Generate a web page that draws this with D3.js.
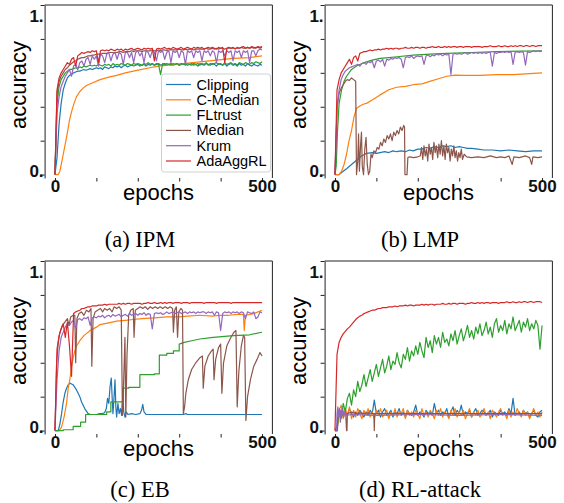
<!DOCTYPE html>
<html>
<head>
<meta charset="utf-8">
<script src="https://cdn.jsdelivr.net/npm/d3@7"></script>
<style>
  body { margin: 0; background: #fff; }
  svg { display: block; }
</style>
</head>
<body>
<div id="chart"></div>
<script>
// legend order = plot order
const seriesNames = ["Clipping", "C-Median", "FLtrust", "Median", "Krum", "AdaAggRL"];
const seriesColors = ["#1f77b4", "#ff7f0e", "#2ca02c", "#8c564b", "#9467bd", "#d62728"];
const panelCaptions = ["(a) IPM", "(b) LMP", "(c) EB", "(d) RL-attack"];
const xTicks = [0, 100, 200, 300, 400, 500];
const xTickLabels = { 0: "0", 500: "500" };
const yTicks = [0, 0.2, 0.4, 0.6, 0.8, 1.0];
const yTickLabels = { 0: "0.", 1: "1." };

// noisy series are read every 5 epochs, smooth ones as [epoch, accuracy] pairs
const sampleStep = 5;

// ---- (a) IPM ----
const ipmClipping = [0, .10, .30, .42, .50, .54, .57, .585, .59, .60,
  .605, .61, .61, .615, .62, .615, .62, .625, .62, .625,
  .63, .625, .63, .62, .635, .63, .625, .635, .63, .64,
  .635, .64, .63, .64, .645, .635, .64, .645, .64, .645,
  .65, .64, .645, .65, .64, .65, .645, .655, .645, .65,
  .655, .645, .65, .655, .645, .65, .655, .645, .65, .655,
  .645, .65, .655, .645, .655, .65, .645, .655, .65, .64,
  .655, .65, .645, .655, .65, .645, .655, .65, .64, .655,
  .65, .645, .655, .64, .65, .655, .645, .65, .64, .655,
  .645, .65, .64, .655, .645, .64, .65, .645, .64, .65, .645];
const ipmCMedian = [[0, 0], [8, 0], [12, 0.02], [20, 0.12], [28, 0.22], [35, 0.32], [40, 0.37], [46, 0.42],
  [52, 0.46], [60, 0.49], [68, 0.51], [76, 0.525], [90, 0.54], [109, 0.56], [130, 0.575], [149, 0.585],
  [170, 0.60], [189, 0.61], [210, 0.62], [229, 0.63], [250, 0.64], [270, 0.645], [310, 0.655],
  [350, 0.665], [390, 0.675], [431, 0.685], [470, 0.69], [500, 0.70]];
const ipmFLtrust = [0, .42, .52, .56, .58, .60, .61, .62, .62, .625,
  .63, .625, .635, .63, .64, .635, .64, .645, .64, .645,
  .64, .65, .645, .64, .65, .645, .65, .64, .655, .645,
  .65, .645, .655, .65, .645, .655, .65, .645, .655, .65,
  .655, .65, .645, .655, .65, .66, .65, .655, .645, .655,
  .65, .59, .655, .645, .655, .65, .645, .655, .65, .655,
  .645, .655, .65, .655, .645, .65, .655, .645, .65, .655,
  .645, .655, .65, .66, .645, .655, .65, .655, .66, .65,
  .655, .645, .66, .65, .655, .66, .65, .655, .645, .66,
  .655, .65, .66, .655, .65, .66, .655, .665, .66, .655, .665];
const ipmMedian = [0, .48, .55, .58, .60, .62, .63, .645, .655, .665,
  .67, .68, .685, .69, .69, .695, .70, .70, .705, .705,
  .71, .71, .71, .715, .715, .715, .72, .72, .72, .72,
  .72, .725, .725, .72, .725, .725, .725, .73, .725, .73,
  .73, .73, .725, .73, .73, .73, .73, .735, .73, .73,
  .735, .73, .735, .735, .73, .735, .735, .735, .735, .735,
  .74, .735, .735, .74, .735, .74, .74, .735, .74, .74,
  .74, .74, .74, .745, .74, .74, .745, .74, .745, .74,
  .745, .745, .74, .745, .745, .745, .745, .745, .745, .745,
  .75, .745, .745, .75, .745, .75, .745, .75, .75, .745, .75];
const ipmKrum = [0, .36, .46, .52, .55, .58, .60, .62, .58, .64,
  .65, .62, .66, .67, .64, .68, .69, .65, .70, .68,
  .70, .64, .71, .70, .66, .71, .72, .67, .71, .72,
  .68, .72, .71, .65, .72, .72, .69, .72, .66, .72,
  .73, .70, .72, .66, .73, .72, .69, .73, .72, .67,
  .73, .72, .73, .68, .72, .73, .66, .73, .72, .73,
  .69, .73, .72, .65, .73, .72, .73, .69, .73, .72,
  .73, .67, .73, .72, .73, .70, .73, .72, .66, .73,
  .72, .73, .70, .73, .72, .73, .67, .73, .72, .73,
  .69, .73, .72, .73, .66, .73, .73, .70, .73, .74, .735];
const ipmAdaAggRL = [0, .50, .57, .60, .62, .64, .66, .65, .68, .69,
  .64, .70, .71, .72, .715, .72, .725, .72, .73, .725,
  .73, .66, .73, .735, .73, .735, .73, .74, .735, .73,
  .74, .735, .74, .73, .74, .735, .74, .745, .735, .74,
  .745, .74, .735, .745, .74, .745, .74, .745, .67, .74,
  .745, .74, .745, .75, .74, .745, .74, .75, .745, .74,
  .745, .75, .74, .745, .75, .745, .74, .75, .745, .75,
  .745, .75, .74, .745, .75, .745, .75, .745, .74, .75,
  .745, .75, .66, .745, .75, .745, .75, .74, .75, .745,
  .75, .755, .745, .75, .745, .755, .75, .745, .755, .75, .755];

// ---- (b) LMP ----
const lmpClipping = [[0, 0], [10, 0], [20, 0.02], [28, 0.035], [40, 0.06], [52, 0.085], [64, 0.11],
  [76, 0.125], [90, 0.13], [100, 0.125], [109, 0.13], [120, 0.135], [130, 0.13], [140, 0.14],
  [149, 0.135], [160, 0.14], [170, 0.135], [180, 0.145], [189, 0.14], [200, 0.15], [210, 0.15],
  [220, 0.16], [230, 0.155], [240, 0.165], [250, 0.16], [260, 0.17], [270, 0.165], [280, 0.17],
  [290, 0.16], [300, 0.165], [310, 0.16], [320, 0.155], [330, 0.155], [345, 0.15], [360, 0.145],
  [380, 0.145], [400, 0.14], [420, 0.145], [440, 0.14], [460, 0.135], [480, 0.14], [500, 0.14]];
const lmpCMedian = [[0, 0], [10, 0], [16, 0.02], [22, 0.06], [28, 0.12], [34, 0.2], [40, 0.26], [46, 0.34],
  [52, 0.39], [60, 0.405], [68, 0.415], [76, 0.42], [90, 0.44], [109, 0.47], [130, 0.50], [149, 0.515],
  [170, 0.52], [189, 0.53], [210, 0.535], [229, 0.55], [250, 0.565], [270, 0.58], [290, 0.587],
  [310, 0.585], [350, 0.585], [390, 0.59], [431, 0.59], [470, 0.595], [500, 0.60]];
const lmpFLtrust = [[0, 0], [3, 0.05], [6, 0.25], [10, 0.42], [16, 0.50], [22, 0.55], [28, 0.58], [40, 0.62],
  [52, 0.64], [65, 0.655], [76, 0.665], [90, 0.675], [109, 0.685], [130, 0.69], [150, 0.695],
  [189, 0.705], [230, 0.71], [270, 0.715], [330, 0.72], [390, 0.725], [450, 0.728], [500, 0.73]];
const lmpMedian = [[0, 0], [3, 0.2], [5, 0.40], [10, 0.48], [15, 0.51], [20, 0.53], [25, 0.55], [30, 0.56],
  [35, 0.555], [40, 0.57], [45, 0.56], [50, 0.55], [52, 0.0], [55, 0.08], [57, 0.24], [59, 0.02],
  [62, 0.18], [64, 0.25], [66, 0.05], [69, 0.0], [72, 0.15], [75, 0.22], [78, 0.06], [81, 0.0],
  [84, 0.02], [87, 0.12], [90, 0.10], [94, 0.14], [98, 0.13], [102, 0.16], [106, 0.15], [110, 0.19],
  [114, 0.17], [118, 0.21], [122, 0.19], [126, 0.23], [130, 0.21], [134, 0.24], [138, 0.20],
  [142, 0.25], [146, 0.23], [150, 0.26], [154, 0.24], [158, 0.28], [162, 0.26], [166, 0.29],
  [168, 0.28], [169, 0.0], [174, 0.0], [176, 0.10], [180, 0.105], [190, 0.10], [200, 0.105],
  [206, 0.11], [209, 0.16], [212, 0.09], [215, 0.17], [218, 0.11], [221, 0.15], [224, 0.08],
  [227, 0.18], [230, 0.12], [233, 0.16], [236, 0.09], [239, 0.19], [242, 0.13], [245, 0.17],
  [248, 0.10], [251, 0.18], [254, 0.12], [257, 0.20], [260, 0.11], [263, 0.17], [266, 0.09],
  [269, 0.18], [272, 0.13], [275, 0.16], [278, 0.08], [281, 0.15], [284, 0.11], [287, 0.17],
  [290, 0.10], [293, 0.14], [296, 0.08], [299, 0.13], [302, 0.10], [305, 0.15], [308, 0.09],
  [312, 0.12], [318, 0.105], [330, 0.10], [345, 0.105], [360, 0.10], [375, 0.11], [390, 0.10],
  [400, 0.105], [410, 0.10], [420, 0.11], [428, 0.06], [432, 0.105], [445, 0.10], [460, 0.11],
  [470, 0.10], [475, 0.06], [478, 0.105], [490, 0.10], [500, 0.105]];
const lmpKrum = [0, .38, .50, .56, .59, .61, .62, .63, .635, .64,
  .645, .65, .64, .655, .66, .65, .665, .66, .67, .63,
  .67, .675, .665, .68, .64, .68, .675, .685, .68, .69,
  .685, .69, .68, .63, .69, .695, .69, .70, .685, .695,
  .70, .695, .70, .65, .70, .705, .695, .705, .70, .71,
  .705, .71, .70, .71, .705, .71, .59, .71, .715, .71,
  .715, .71, .715, .72, .71, .715, .72, .715, .72, .715,
  .72, .715, .72, .715, .72, .72, .64, .72, .715, .72,
  .72, .725, .72, .725, .72, .725, .65, .72, .725, .72,
  .725, .72, .645, .725, .72, .725, .73, .725, .73, .725, .73];
const lmpAdaAggRL = [0, .50, .56, .60, .62, .64, .66, .68, .65, .69,
  .70, .67, .715, .72, .725, .725, .73, .735, .73, .735,
  .735, .74, .735, .74, .74, .745, .74, .745, .74, .745,
  .745, .74, .745, .745, .75, .745, .745, .75, .745, .75,
  .75, .745, .75, .75, .745, .75, .75, .755, .75, .75,
  .755, .75, .75, .755, .75, .755, .75, .755, .755, .75,
  .755, .755, .75, .755, .755, .755, .75, .755, .755, .755,
  .755, .75, .755, .755, .755, .76, .755, .755, .755, .76,
  .755, .755, .76, .755, .755, .76, .755, .76, .755, .76,
  .76, .755, .76, .76, .755, .76, .76, .755, .76, .76, .76];

// ---- (c) EB ----
const ebClipping = [[0, 0], [8, 0], [12, 0.04], [16, 0.10], [20, 0.17], [24, 0.22], [28, 0.25], [32, 0.27],
  [36, 0.28], [40, 0.275], [44, 0.27], [48, 0.255], [52, 0.24], [56, 0.22], [60, 0.20], [64, 0.17],
  [68, 0.15], [72, 0.13], [76, 0.115], [80, 0.10], [86, 0.095], [93, 0.095], [100, 0.095], [108, 0.10],
  [114, 0.10], [120, 0.105], [124, 0.13], [127, 0.19], [130, 0.16], [133, 0.26], [136, 0.31],
  [138, 0.20], [140, 0.10], [142, 0.17], [145, 0.30], [147, 0.14], [149, 0.08], [152, 0.16],
  [155, 0.10], [158, 0.13], [161, 0.09], [164, 0.22], [166, 0.11], [169, 0.08], [172, 0.11],
  [176, 0.095], [185, 0.10], [195, 0.095], [205, 0.10], [209, 0.12], [212, 0.155], [215, 0.11],
  [220, 0.095], [260, 0.095], [310, 0.095], [316, 0.10], [320, 0.095], [400, 0.095], [500, 0.095]];
const ebCMedian = [[0, 0], [10, 0], [16, 0.02], [22, 0.08], [28, 0.16], [32, 0.25], [36, 0.30], [40, 0.38],
  [44, 0.43], [48, 0.47], [52, 0.50], [60, 0.53], [70, 0.56], [85, 0.59], [100, 0.61], [109, 0.625],
  [130, 0.635], [149, 0.645], [170, 0.65], [189, 0.655], [210, 0.66], [240, 0.665], [270, 0.67],
  [300, 0.67], [320, 0.675], [350, 0.68], [380, 0.675], [400, 0.68], [420, 0.68], [440, 0.685],
  [455, 0.685], [457, 0.59], [460, 0.68], [480, 0.69], [500, 0.71]];
const ebFLtrust = [[0, 0], [20, 0], [20, 0.005], [44, 0.005], [44, 0.025], [62, 0.025], [62, 0.05],
  [74, 0.05], [74, 0.095], [125, 0.095], [125, 0.11], [135, 0.11], [135, 0.17], [165, 0.17],
  [165, 0.25], [178, 0.25], [178, 0.255], [205, 0.255], [205, 0.33], [240, 0.33], [240, 0.335],
  [252, 0.335], [252, 0.445], [270, 0.445], [270, 0.455], [286, 0.455], [286, 0.47], [300, 0.47],
  [300, 0.51], [312, 0.52], [330, 0.53], [350, 0.54], [382, 0.55], [431, 0.56], [470, 0.565], [500, 0.58]];
const ebMedian = [[0, 0], [4, 0.40], [8, 0.52], [12, 0.58], [18, 0.62], [24, 0.64], [30, 0.66], [34, 0.62],
  [38, 0.67], [44, 0.68], [48, 0.68], [50, 0.40], [53, 0.66], [58, 0.69], [64, 0.70], [70, 0.68],
  [76, 0.71], [82, 0.70], [87, 0.72], [89, 0.38], [92, 0.66], [97, 0.70], [103, 0.71], [110, 0.72],
  [115, 0.70], [120, 0.72], [126, 0.71], [132, 0.72], [138, 0.70], [143, 0.73], [149, 0.72],
  [155, 0.73], [160, 0.71], [163, 0.09], [166, 0.30], [169, 0.55], [171, 0.08], [174, 0.45],
  [178, 0.68], [183, 0.71], [189, 0.72], [191, 0.55], [194, 0.71], [200, 0.72], [206, 0.73],
  [212, 0.72], [218, 0.73], [224, 0.715], [230, 0.73], [236, 0.72], [242, 0.73], [248, 0.72],
  [254, 0.73], [260, 0.72], [266, 0.73], [272, 0.72], [278, 0.73], [284, 0.72], [286, 0.58],
  [289, 0.71], [293, 0.73], [296, 0.55], [299, 0.70], [304, 0.72], [308, 0.71], [310, 0.10],
  [313, 0.14], [316, 0.22], [322, 0.30], [330, 0.36], [340, 0.40], [350, 0.43], [356, 0.44],
  [358, 0.25], [362, 0.38], [370, 0.44], [378, 0.47], [382, 0.48], [384, 0.30], [388, 0.42],
  [395, 0.49], [400, 0.51], [403, 0.22], [407, 0.40], [415, 0.50], [425, 0.55], [432, 0.58],
  [437, 0.59], [440, 0.14], [444, 0.35], [450, 0.50], [455, 0.56], [458, 0.55], [461, 0.06],
  [465, 0.20], [472, 0.30], [480, 0.38], [488, 0.42], [495, 0.46], [500, 0.44]];
const ebKrum = [0, .30, .47, .55, .58, .61, .63, .62, .64, .65,
  .60, .655, .66, .65, .665, .66, .67, .62, .665, .67,
  .665, .675, .67, .68, .665, .675, .68, .67, .685, .675,
  .68, .685, .67, .68, .685, .675, .69, .68, .685, .69,
  .68, .69, .685, .695, .68, .69, .685, .60, .69, .695,
  .69, .695, .685, .69, .70, .69, .695, .70, .69, .695,
  .70, .69, .695, .70, .69, .70, .695, .70, .69, .70,
  .695, .70, .70, .69, .70, .695, .70, .68, .70, .695,
  .59, .69, .70, .695, .70, .69, .70, .695, .70, .69,
  .70, .695, .66, .70, .695, .69, .70, .66, .67, .70, .695];
const ebAdaAggRL = [0, .48, .56, .60, .63, .55, .64, .50, .32, .69,
  .70, .705, .71, .72, .72, .725, .73, .73, .735, .735,
  .735, .74, .74, .74, .745, .74, .745, .745, .745, .745,
  .745, .75, .745, .75, .745, .75, .75, .745, .75, .75,
  .75, .75, .745, .75, .75, .755, .75, .75, .755, .75,
  .75, .755, .75, .755, .75, .755, .755, .75, .755, .755,
  .755, .75, .755, .755, .755, .75, .755, .755, .755, .755,
  .755, .755, .75, .755, .755, .755, .755, .755, .75, .755,
  .755, .755, .755, .755, .755, .75, .755, .755, .755, .755,
  .755, .755, .755, .755, .755, .755, .755, .755, .755, .755, .755];

// ---- (d) RL-attack ----
const rlClipping = [0, 0, .10, .12, .08, .11, .09, .13, .10, .08,
  .11, .09, .12, .10, .08, .11, .09, .12, .10, .18,
  .10, .12, .08, .11, .13, .09, .10, .12, .08, .11,
  .10, .13, .09, .11, .08, .12, .10, .09, .11, .15,
  .09, .11, .10, .08, .12, .10, .11, .09, .16, .10,
  .12, .09, .11, .10, .13, .08, .11, .14, .09, .12,
  .10, .15, .09, .11, .10, .12, .08, .11, .13, .09,
  .10, .12, .11, .09, .10, .12, .08, .11, .10, .09,
  .12, .10, .11, .09, .13, .10, .19, .09, .10, .11,
  .09, .12, .10, .11, .08, .10, .12, .09, .08, .11, .12];
const rlCMedian = [0, 0, .12, .15, .07, .13, .09, .14, .07, .12,
  .08, .13, .10, .07, .12, .09, .13, .08, .11, .07,
  .12, .09, .13, .08, .10, .12, .07, .11, .09, .13,
  .08, .11, .10, .13, .07, .12, .09, .11, .08, .12,
  .10, .07, .13, .09, .11, .08, .12, .10, .07, .12,
  .09, .13, .08, .11, .10, .07, .12, .09, .13, .08,
  .11, .09, .12, .07, .10, .13, .08, .11, .09, .12,
  .08, .10, .13, .09, .11, .07, .12, .10, .08, .11,
  .13, .09, .10, .07, .12, .08, .11, .09, .13, .10,
  .08, .12, .09, .11, .07, .10, .13, .09, .11, .08, .11];
const rlFLtrust = [0, .03, .10, .07, .16, .11, .19, .22, .15, .24,
  .20, .29, .23, .27, .33, .26, .31, .36, .29, .34,
  .39, .32, .37, .42, .34, .38, .44, .36, .41, .39,
  .46, .40, .37, .45, .42, .49, .41, .47, .44, .50,
  .45, .52, .47, .43, .55, .49, .53, .46, .56, .51,
  .55, .49, .58, .52, .54, .50, .57, .53, .59, .51,
  .56, .60, .53, .57, .62, .55, .59, .54, .61, .57,
  .63, .56, .59, .64, .57, .61, .55, .63, .66, .58,
  .62, .59, .65, .57, .63, .60, .67, .59, .62, .65,
  .58, .64, .61, .66, .59, .63, .60, .65, .62, .48, .62];
const rlMedian = [[0, 0], [6, 0], [7, 0.10], [12, 0.12], [16, 0.09], [20, 0.11], [26, 0.10], [28, 0.0],
  [29, 0.0], [30, 0.10], [40, 0.11], [50, 0.10], [60, 0.105], [70, 0.10], [80, 0.105], [94, 0.10],
  [95, 0.0], [96, 0.10], [120, 0.10], [200, 0.10], [300, 0.10], [400, 0.10], [500, 0.10]];
const rlKrum = [[0, 0], [4, 0.0], [5, 0.10], [7, 0.14], [9, 0.08], [11, 0.13], [13, 0.05], [15, 0.12],
  [17, 0.09], [19, 0.13], [21, 0.08], [24, 0.11], [28, 0.09], [40, 0.095], [100, 0.09], [200, 0.095],
  [300, 0.09], [400, 0.095], [500, 0.09]];
const rlAdaAggRL = [0, .45, .52, .55, .57, .585, .60, .61, .625, .64,
  .655, .665, .675, .68, .69, .695, .70, .705, .71, .71,
  .715, .72, .72, .725, .725, .725, .73, .73, .73, .735,
  .73, .735, .735, .735, .74, .735, .74, .74, .735, .74,
  .74, .74, .745, .74, .745, .74, .745, .745, .74, .745,
  .745, .745, .75, .745, .745, .75, .745, .75, .75, .745,
  .75, .75, .75, .745, .75, .75, .755, .75, .75, .755,
  .75, .755, .75, .755, .755, .75, .755, .755, .755, .75,
  .755, .755, .755, .76, .755, .755, .76, .755, .755, .76,
  .755, .76, .76, .755, .76, .76, .755, .76, .76, .76, .755];

const panels = [
  [ipmClipping, ipmCMedian, ipmFLtrust, ipmMedian, ipmKrum, ipmAdaAggRL],
  [lmpClipping, lmpCMedian, lmpFLtrust, lmpMedian, lmpKrum, lmpAdaAggRL],
  [ebClipping, ebCMedian, ebFLtrust, ebMedian, ebKrum, ebAdaAggRL],
  [rlClipping, rlCMedian, rlFLtrust, rlMedian, rlKrum, rlAdaAggRL]
];

// layout
const width = 564;
const height = 503;
const panelOffset = { x: 280, y: 256 };
const captionBaseline = [247, 497];
const font = "'Liberation Sans', Arial, sans-serif";
const serif = "'Liberation Serif', 'Times New Roman', serif";

const x = d3.scaleLinear().domain([-25, 525]).range([44.6, 272.4]);
const y = d3.scaleLinear().domain([-0.02, 1.0]).range([178, 5]);

function toPoints(s) {
  // plain numbers are samples on the 5-epoch grid
  if (typeof s[0] === "number") {
    return s.map(function(v, i) { return [i * sampleStep, v]; });
  }
  return s;
}

const line = d3.line()
  .x(function(d) { return x(d[0]); })
  .y(function(d) { return y(d[1]); });

const svg = d3.select("#chart")
  .append("svg")
  .attr("width", width)
  .attr("height", height);

panels.forEach(function(series, p) {
  const col = p % 2;
  const row = Math.floor(p / 2);
  const g = svg.append("g")
    .attr("transform", "translate(" + col * panelOffset.x + "," + row * panelOffset.y + ")");

  // lines, in legend order so AdaAggRL ends on top
  series.forEach(function(s, i) {
    g.append("path")
      .datum(toPoints(s))
      .attr("d", line)
      .attr("fill", "none")
      .attr("stroke", seriesColors[i])
      .attr("stroke-width", 1.2)
      .attr("stroke-linejoin", "round");
  });

  // y axis (left spine)
  const yAxis = g.append("g")
    .attr("transform", "translate(" + x.range()[0] + ",0)")
    .call(d3.axisLeft(y).tickValues(yTicks).tickSize(4).tickSizeOuter(0)
      .tickFormat(function(d) { return yTickLabels[d] || ""; }));
  yAxis.select(".domain").attr("stroke", "#222");
  yAxis.selectAll(".tick line").attr("stroke", "#222");
  yAxis.selectAll(".tick text")
    .attr("x", -1)
    .attr("dy", function(d) { return d === 1 ? "0.95em" : "0.12em"; })
    .attr("fill", "#111")
    .style("font-family", font)
    .style("font-size", "17px")
    .style("font-weight", "bold");

  // x axis, no bottom spine
  const xAxis = g.append("g")
    .attr("transform", "translate(0," + y.range()[0] + ")")
    .call(d3.axisBottom(x).tickValues(xTicks).tickSize(3.5).tickSizeOuter(0)
      .tickFormat(function(d) { return xTickLabels[d] || ""; }));
  xAxis.select(".domain").remove();
  xAxis.selectAll(".tick line").attr("stroke", "#222");
  xAxis.selectAll(".tick text")
    .attr("y", 1.5)
    .attr("fill", "#111")
    .style("font-family", font)
    .style("font-size", "17px")
    .style("font-weight", "bold");

  // top and right spines
  g.append("path")
    .attr("d", "M" + x.range()[0] + "," + y.range()[1] + "H" + x.range()[1] + "V" + y.range()[0])
    .attr("fill", "none")
    .attr("stroke", "#222")
    .attr("stroke-width", 1);

  g.append("text")
    .attr("x", (x.range()[0] + x.range()[1]) / 2)
    .attr("y", 200)
    .attr("text-anchor", "middle")
    .style("font-family", font)
    .style("font-size", "22px")
    .text("epochs");

  g.append("text")
    .attr("transform", "translate(26," + 85 + ") rotate(-90)")
    .attr("text-anchor", "middle")
    .style("font-family", font)
    .style("font-size", "22px")
    .text("accuracy");

  svg.append("text")
    .attr("x", col * panelOffset.x + 140)
    .attr("y", captionBaseline[row])
    .attr("text-anchor", "middle")
    .style("font-family", serif)
    .style("font-size", "22.5px")
    .text(panelCaptions[p]);

  // legend only in the first panel
  if (p === 0) {
    const legend = g.append("g").attr("transform", "translate(161.5,74)");
    legend.append("rect")
      .attr("width", 109)
      .attr("height", 98)
      .attr("rx", 3)
      .attr("fill", "#fff")
      .attr("fill-opacity", 0.85)
      .attr("stroke", "#d0d0d0");
    seriesNames.forEach(function(name, i) {
      const cy = 10.5 + i * 15.3;
      legend.append("line")
        .attr("x1", 4.5).attr("x2", 29.5)
        .attr("y1", cy).attr("y2", cy)
        .attr("stroke", seriesColors[i])
        .attr("stroke-width", 1.2);
      legend.append("text")
        .attr("x", 35)
        .attr("y", cy)
        .attr("dy", "0.35em")
        .style("font-family", font)
        .style("font-size", "14.5px")
        .text(name);
    });
  }
});
</script>
</body>
</html>
